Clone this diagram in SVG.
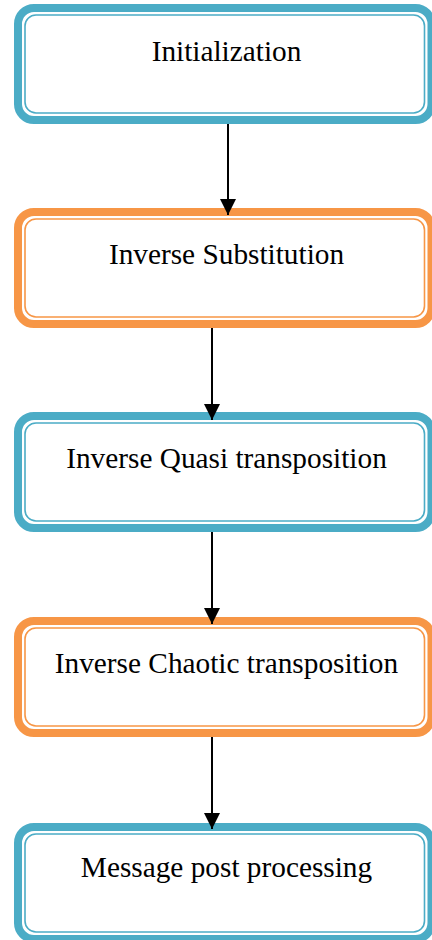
<svg xmlns="http://www.w3.org/2000/svg" width="432" height="940" viewBox="0 0 432 940">
<defs>
<style>
.outer{fill:#fff;stroke-width:8}
.inner{fill:none;stroke-width:1.6}
.blue{stroke:#4BACC6}
.orange{stroke:#F79646}
.lbl{font-family:"Liberation Serif","Times New Roman",serif;font-size:29.3px;fill:#000;text-anchor:middle}
.edge{stroke:#000;stroke-width:2;fill:none}
</style>
<marker id="ah" markerUnits="userSpaceOnUse" markerWidth="16" markerHeight="16" viewBox="0 0 16 16" refX="16" refY="8" orient="auto">
<path d="M0,0 L16,8 L0,16 Z" fill="#000"/>
</marker>
</defs>
<g id="n1">
<rect class="outer blue" x="18" y="8" width="413.5" height="112" rx="16"/>
<rect class="inner blue" x="25" y="15" width="399.5" height="98" rx="11"/>
<text class="lbl" x="226.5" y="61">Initialization</text>
</g>
<g id="n2">
<rect class="outer orange" x="18" y="212" width="413.5" height="112" rx="16"/>
<rect class="inner orange" x="25" y="219" width="399.5" height="98" rx="11"/>
<text class="lbl" x="226.5" y="264">Inverse Substitution</text>
</g>
<g id="n3">
<rect class="outer blue" x="18" y="416" width="413.5" height="112" rx="16"/>
<rect class="inner blue" x="25" y="423" width="399.5" height="98" rx="11"/>
<text class="lbl" x="226.5" y="468">Inverse Quasi transposition</text>
</g>
<g id="n4">
<rect class="outer orange" x="18" y="621" width="413.5" height="112" rx="16"/>
<rect class="inner orange" x="25" y="628" width="399.5" height="98" rx="11"/>
<text class="lbl" x="226.5" y="673">Inverse Chaotic transposition</text>
</g>
<g id="n5">
<rect class="outer blue" x="18" y="827" width="413.5" height="112" rx="16"/>
<rect class="inner blue" x="25" y="834" width="399.5" height="98" rx="11"/>
<text class="lbl" x="226.5" y="877">Message post processing</text>
</g>
<g id="edges">
<line class="edge" x1="228" y1="124" x2="228" y2="215" marker-end="url(#ah)"/>
<line class="edge" x1="212" y1="328" x2="212" y2="420" marker-end="url(#ah)"/>
<line class="edge" x1="212" y1="532" x2="212" y2="624" marker-end="url(#ah)"/>
<line class="edge" x1="212" y1="737" x2="212" y2="829" marker-end="url(#ah)"/>
</g>
</svg>
